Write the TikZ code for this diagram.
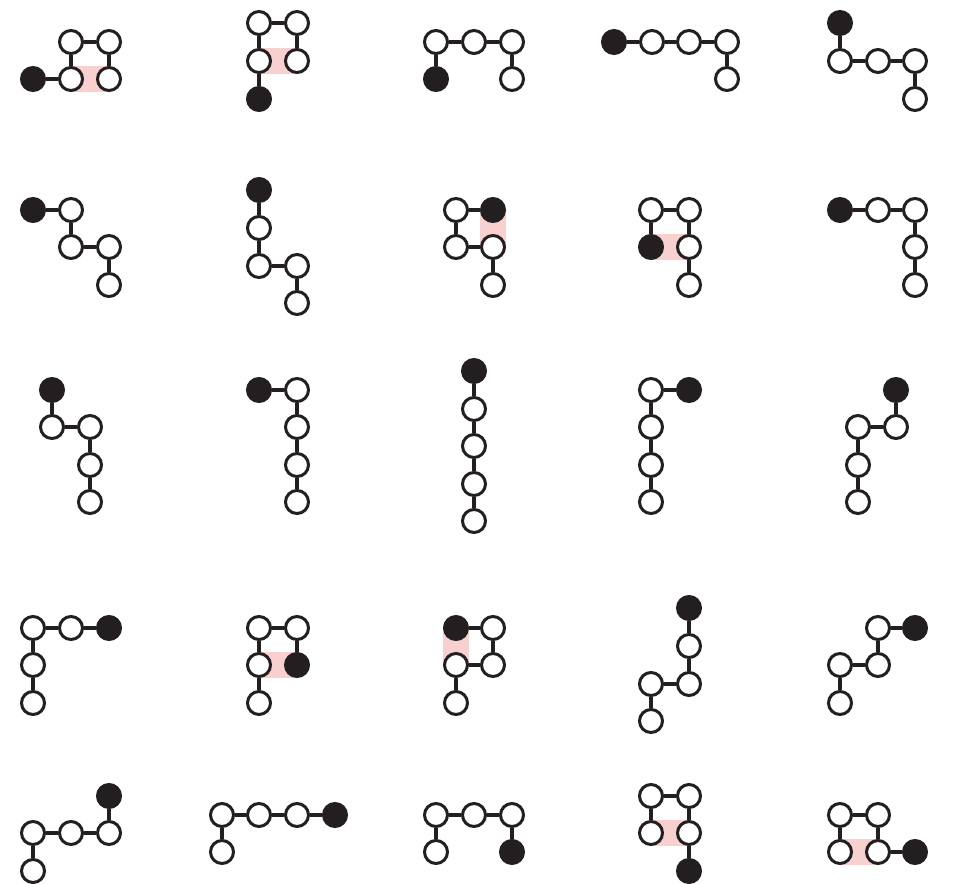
\documentclass[tikz,border=0pt]{standalone}
\usetikzlibrary{calc}
\pgfdeclarelayer{bottom}
\pgfdeclarelayer{background}
\pgfsetlayers{bottom,background,main}
\definecolor{ink}{HTML}{231F20}
\definecolor{contact}{HTML}{F9D0D0}
\tikzset{
  mono/.style={circle,draw=ink,line width=3pt,minimum size=23pt,inner sep=0pt},
  wht/.style={mono,fill=white},
  blk/.style={mono,fill=ink},
  bond/.style={draw=ink,line width=3.5pt},
  pinkbox/.style={fill=contact,draw=none}
}
\newcommand\mychain[6]{%
  \node[blk] (#1-1) at (#2) {};
  \node[wht] (#1-2) at (#3) {};
  \node[wht] (#1-3) at (#4) {};
  \node[wht] (#1-4) at (#5) {};
  \node[wht] (#1-5) at (#6) {};
  \draw[bond] (#1-1) -- (#1-2);
  \draw[bond] (#1-2) -- (#1-3);
  \draw[bond] (#1-3) -- (#1-4);
  \draw[bond] (#1-4) -- (#1-5);
}
\newcommand\hcontact[2]{%
  \begin{pgfonlayer}{background}
    \fill[pinkbox] ($(#1.center)+(0,-13)$) rectangle ($(#2.center)+(0,13)$);
  \end{pgfonlayer}
}
\newcommand\vcontact[2]{%
  \begin{pgfonlayer}{background}
    \fill[pinkbox] ($(#1.center)+(-13,0)$) rectangle ($(#2.center)+(13,0)$);
  \end{pgfonlayer}
}
\begin{document}
\begin{tikzpicture}[x=1pt,y=-1pt]
\begin{pgfonlayer}{bottom}
\fill[white] (0,0) rectangle (957,883);
\end{pgfonlayer}
\useasboundingbox (0,0) rectangle (957,883);
% row 1
\mychain{a}{33,79}{71,79}{71,42}{109,42}{109,79}
\hcontact{a-2}{a-5}
\mychain{b}{259,99}{259,61}{259,23}{297,23}{297,61}
\hcontact{b-2}{b-5}
\mychain{c}{436,79}{436,42}{474,42}{512,42}{512,79}
\mychain{d}{614,42}{652,42}{689,42}{727,42}{727,79}
\mychain{e}{840,23}{840,61}{878,61}{915,61}{915,99}
% row 2
\mychain{f}{33,210}{71,210}{71,247}{109,247}{109,285}
\mychain{g}{259,190}{259,228}{259,266}{297,266}{297,303}
\mychain{h}{493,210}{456,210}{456,247}{493,247}{493,285}
\vcontact{h-1}{h-4}
\mychain{i}{651,247}{651,210}{689,210}{689,247}{689,285}
\hcontact{i-1}{i-4}
\mychain{j}{840,210}{878,210}{915,210}{915,247}{915,285}
% row 3
\mychain{k}{52,390}{52,427}{90,427}{90,465}{90,502}
\mychain{l}{259,390}{297,390}{297,427}{297,465}{297,502}
\mychain{m}{474,371}{474,409}{474,446}{474,484}{474,521}
\mychain{n}{689,390}{651,390}{651,427}{651,465}{651,502}
\mychain{o}{896,390}{896,427}{858,427}{858,465}{858,502}
% row 4
\mychain{p}{109,628}{71,628}{33,628}{33,665}{33,703}
\mychain{q}{297,665}{297,628}{259,628}{259,665}{259,703}
\hcontact{q-4}{q-1}
\mychain{r}{456,628}{493,628}{493,665}{456,665}{456,703}
\vcontact{r-1}{r-4}
\mychain{s}{689,608}{689,646}{689,684}{651,684}{651,721}
\mychain{t}{915,628}{878,628}{878,665}{840,665}{840,703}
% row 5
\mychain{u}{109,796}{109,833}{71,833}{33,833}{33,871}
\mychain{v}{335,815}{297,815}{259,815}{222,815}{222,852}
\mychain{w}{512,852}{512,815}{474,815}{436,815}{436,852}
\mychain{x}{689,871}{689,833}{689,796}{651,796}{651,833}
\hcontact{x-5}{x-2}
\mychain{y}{915,852}{878,852}{878,815}{840,815}{840,852}
\hcontact{y-5}{y-2}
\end{tikzpicture}
\end{document}
